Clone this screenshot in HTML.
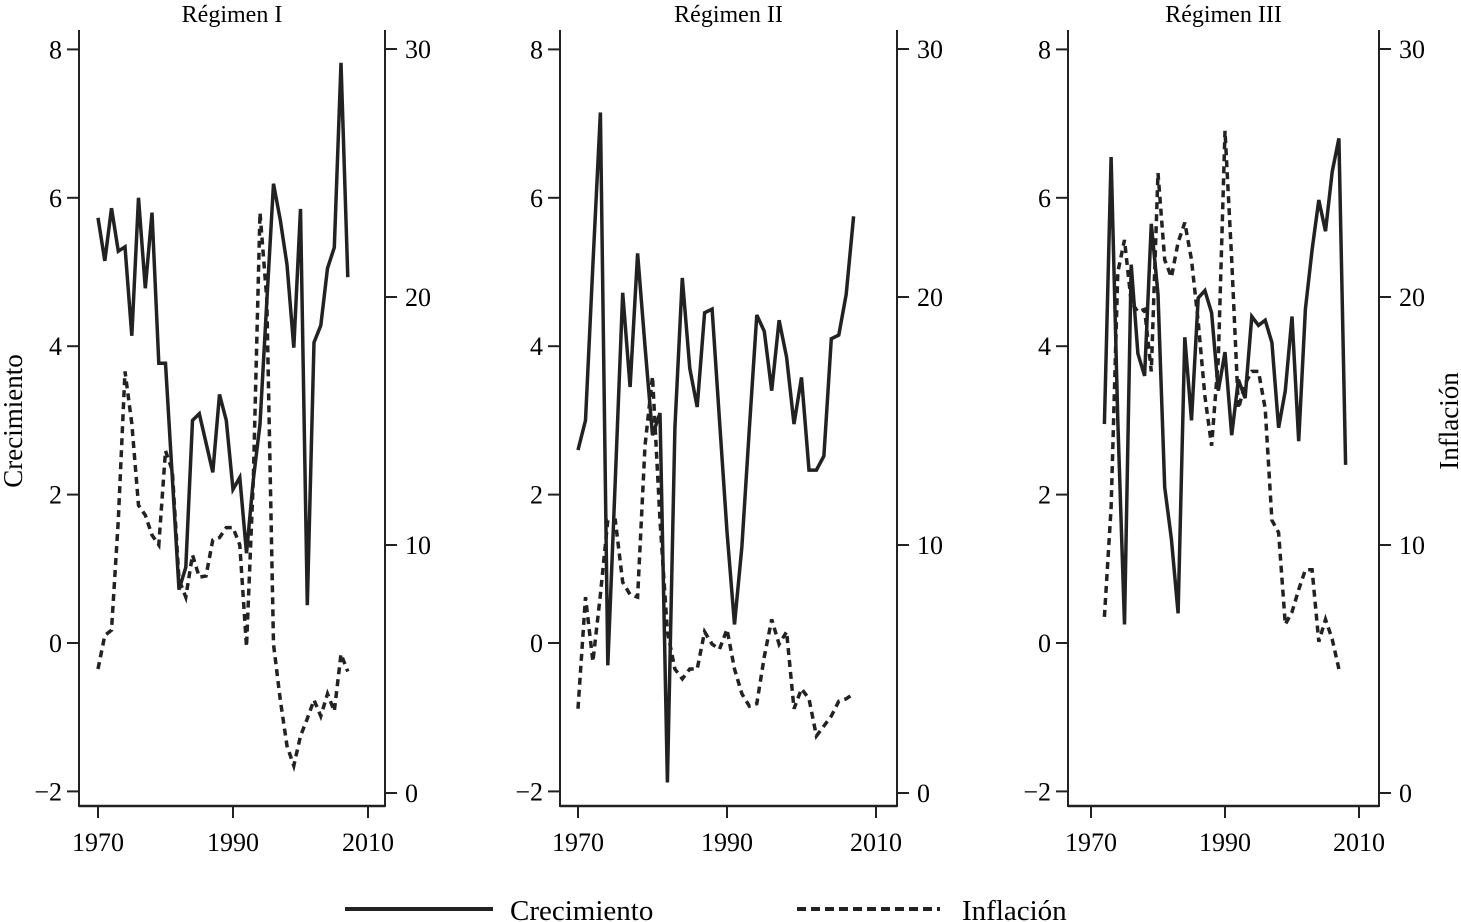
<!DOCTYPE html>
<html><head><meta charset="utf-8"><style>
html,body{margin:0;padding:0;background:#fff;}
svg{display:block;font-family:"Liberation Serif",serif;}
</style></head><body>
<svg id="c" width="1461" height="922" viewBox="0 0 1461 922"></svg>
<script>
const years1 = [1970,1971,1972,1973,1974,1975,1976,1977,1978,1979,1980,1981,1982,1983,1984,1985,1986,1987,1988,1989,1990,1991,1992,1993,1994,1995,1996,1997,1998,1999,2000,2001,2002,2003,2004,2005,2006,2007];
const growth1 = [5.73,5.15,5.86,5.28,5.34,4.14,6.0,4.78,5.8,3.77,3.77,2.23,0.72,1.02,3.0,3.09,2.7,2.3,3.35,3.0,2.07,2.23,1.21,2.2,2.95,4.6,6.19,5.7,5.1,3.98,5.85,0.51,4.05,4.28,5.05,5.33,7.82,4.93];
const infl1 = [5.0,6.35,6.57,11.0,17.0,14.9,11.6,11.2,10.4,10.0,13.8,13.0,8.6,7.9,9.6,8.7,8.75,10.2,10.3,10.7,10.7,10.0,5.9,12.6,23.4,19.9,6.0,3.75,1.9,1.1,2.3,3.0,3.75,3.1,4.0,3.3,5.6,4.9];
const years2 = years1;
const growth2 = [2.6,3.0,5.1,7.15,-0.3,2.2,4.72,3.45,5.25,4.0,2.8,3.1,-1.88,2.9,4.92,3.7,3.18,4.45,4.5,3.0,1.5,0.25,1.3,2.9,4.42,4.2,3.4,4.35,3.85,2.95,3.58,2.33,2.33,2.52,4.1,4.15,4.7,5.75];
const infl2 = [3.4,7.9,5.3,8.0,11.0,11.0,8.5,8.0,7.9,14.0,16.8,11.0,6.5,5.0,4.6,5.0,5.0,6.5,6.0,5.8,6.6,5.0,4.0,3.5,3.6,5.5,7.0,6.0,6.5,3.4,4.2,3.8,2.3,2.7,3.1,3.7,3.8,4.0];
const years3 = [1972,1973,1974,1975,1976,1977,1978,1979,1980,1981,1982,1983,1984,1985,1986,1987,1988,1989,1990,1991,1992,1993,1994,1995,1996,1997,1998,1999,2000,2001,2002,2003,2004,2005,2006,2007,2008];
const growth3 = [2.95,6.55,3.0,0.25,5.1,3.9,3.6,5.65,4.7,2.1,1.4,0.4,4.12,3.0,4.65,4.75,4.45,3.4,3.92,2.8,3.55,3.3,4.4,4.28,4.35,4.05,2.9,3.4,4.4,2.72,4.5,5.3,5.97,5.55,6.35,6.8,2.4];
const infl3 = [7.1,11.5,21.0,22.3,19.8,19.4,19.5,17.0,25.0,21.5,20.8,22.2,23.0,21.5,19.0,16.0,14.0,17.5,26.7,21.5,15.5,16.5,17.0,17.0,15.5,11.0,10.5,6.8,7.3,8.2,9.0,9.0,6.1,7.0,6.2,5.0];
const titles = ["Régimen I","Régimen II","Régimen III"];
const leftTicks = [-2,0,2,4,6,8];
const rightTicks = [0,10,20,30];
const xTicks = [1970,1990,2010];

const NS="http://www.w3.org/2000/svg";
const svgEl=document.getElementById('c');
function mk(tag,attrs,parent){const e=document.createElementNS(NS,tag);for(const k in attrs)e.setAttribute(k,attrs[k]);(parent||svgEl).appendChild(e);return e;}
const panels=[
 {L:79,R:385,x0:98,x1:368,yrs:years1,g:growth1,inf:infl1},
 {L:560,R:897,x0:578,x1:876,yrs:years2,g:growth2,inf:infl2},
 {L:1068,R:1379,x0:1091,x1:1359,yrs:years3,g:growth3,inf:infl3}
];
const yL=v=>643-(v)*74.2;
const yR=v=>793-v*24.8;
const TOPY=30,BOTY=806;
panels.forEach((p,i)=>{
 const g=mk('g',{});
 
 
 const xs=y=>p.x0+(y-1970)*(p.x1-p.x0)/40;
 const t=mk('text',{x:(p.L+p.R)/2,y:22,'text-anchor':'middle','font-size':24},g);
 t.textContent=titles[i];
 
 
 mk('line',{x1:p.L,y1:TOPY,x2:p.L,y2:BOTY+1,stroke:'#222','stroke-width':2},g);
 mk('line',{x1:p.R,y1:TOPY,x2:p.R,y2:BOTY+1,stroke:'#222','stroke-width':2},g);
 mk('line',{x1:p.L,y1:BOTY,x2:p.R,y2:BOTY,stroke:'#222','stroke-width':2.5},g);
 leftTicks.forEach(v=>{
  mk('line',{x1:p.L-12,y1:yL(v),x2:p.L,y2:yL(v),stroke:'#222','stroke-width':2},g);
  const tx=mk('text',{x:p.L-17,y:yL(v)+9,'text-anchor':'end','font-size':26},g);
  tx.textContent=v<0?'\u2212'+(-v):String(v);
  
  
 });
 rightTicks.forEach(v=>{
  mk('line',{x1:p.R,y1:yR(v),x2:p.R+12,y2:yR(v),stroke:'#222','stroke-width':2},g);
  const tx=mk('text',{x:p.R+20,y:yR(v)+9,'text-anchor':'start','font-size':26},g);
  tx.textContent=String(v);
  
  
 });
 xTicks.forEach(v=>{
  mk('line',{x1:xs(v),y1:BOTY,x2:xs(v),y2:BOTY+12,stroke:'#222','stroke-width':2},g);
  const tx=mk('text',{x:xs(v),y:BOTY+45,'text-anchor':'middle','font-size':26},g);
  tx.textContent=String(v);
  
  
 });
 let d1='',d2='';
 p.yrs.forEach((y,k)=>{d1+=(k?'L':'M')+xs(y).toFixed(1)+' '+yL(p.g[k]).toFixed(1);});
 p.inf.forEach((v,k)=>{d2+=(k?'L':'M')+xs(p.yrs[k]).toFixed(1)+' '+yR(v).toFixed(1);});
 const l2=mk('path',{d:d2,fill:'none',stroke:'#222','stroke-width':3.5,'stroke-dasharray':'7 5'},g);
 
 
 const l1=mk('path',{d:d1,fill:'none',stroke:'#222','stroke-width':3.5},g);
 
 
});
const ya=mk('text',{x:0,y:0,'text-anchor':'middle','font-size':27,transform:'translate(22,421) rotate(-90)'});
ya.textContent='Crecimiento';


const yb=mk('text',{x:0,y:0,'text-anchor':'middle','font-size':27,transform:'translate(1458,421) rotate(-90)'});
yb.textContent='Inflación';


const lg=mk('g',{});


mk('line',{x1:345,y1:909,x2:493,y2:909,stroke:'#222','stroke-width':4},lg);
const lt1=mk('text',{x:510,y:920,'font-size':29},lg);
lt1.textContent='Crecimiento';


mk('line',{x1:797,y1:909,x2:940,y2:909,stroke:'#222','stroke-width':4,'stroke-dasharray':'9 5'},lg);
const lt2=mk('text',{x:962,y:920,'font-size':29},lg);
lt2.textContent='Inflación';


</script>
</body></html>
